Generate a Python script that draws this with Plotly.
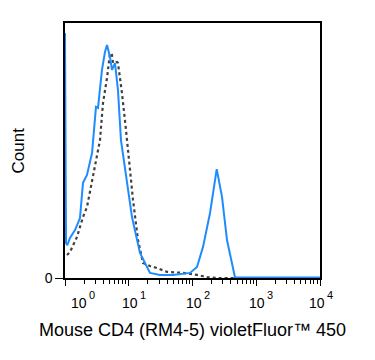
import plotly.graph_objects as go

# log10 fluorescence positions and normalized counts
blue_log = [0.0, 0.016, 0.036, 0.078, 0.157, 0.235, 0.282, 0.345, 0.424, 0.439, 0.486, 0.518,
            0.580, 0.627, 0.659, 0.706, 0.737, 0.784, 0.831, 0.878, 0.973, 1.051, 1.176,
            1.333, 1.490, 1.694, 1.961, 2.071, 2.165, 2.275, 2.380, 2.463, 2.541, 2.635,
            2.667, 4.0]
blue_cnt = [0.961, 0.137, 0.129, 0.157, 0.188, 0.235, 0.373, 0.404, 0.490, 0.541, 0.671, 0.667,
            0.816, 0.886, 0.914, 0.867, 0.816, 0.843, 0.737, 0.541, 0.373, 0.239, 0.098,
            0.020, 0.012, 0.012, 0.020, 0.043, 0.122, 0.255, 0.427, 0.318, 0.149, 0.031,
            0.002, 0.002]

ctrl_log = [0.031, 0.078, 0.188, 0.282, 0.345, 0.439, 0.549, 0.596, 0.659, 0.706, 0.737, 0.753,
            0.816, 0.831, 0.894, 0.957, 1.020, 1.067, 1.145, 1.224, 1.333, 1.443, 1.600,
            1.851, 2.071, 2.227, 2.384, 4.0]
ctrl_cnt = [0.090, 0.102, 0.161, 0.239, 0.278, 0.396, 0.541, 0.686, 0.784, 0.882, 0.875, 0.843,
            0.847, 0.843, 0.725, 0.580, 0.412, 0.306, 0.149, 0.059, 0.047, 0.039, 0.024,
            0.020, 0.012, 0.004, 0.0, 0.0]

decades = [0, 1, 2, 3, 4]
tick_base = "10"
x_title = "Mouse CD4 (RM4-5) violetFluor\u2122 450"
y_title = "Count"

fig = go.Figure()
fig.add_trace(go.Scatter(x=[10 ** v for v in ctrl_log], y=ctrl_cnt, mode="lines",
                         line=dict(color="#404040", width=2.2, dash="dot"), hoverinfo="skip"))
fig.add_trace(go.Scatter(x=[10 ** v for v in blue_log], y=blue_cnt, mode="lines",
                         line=dict(color="#1E8CFF", width=2), hoverinfo="skip"))

minor_vals = [m * 10 ** d for d in range(4) for m in range(2, 10)]

fig.update_xaxes(type="log", range=[0, 4], showgrid=False, zeroline=False,
                 showline=True, linecolor="black", linewidth=1.5, mirror=True,
                 tickmode="array", tickvals=[10 ** d for d in decades], ticktext=["" for d in decades],
                 ticks="outside", ticklen=6, tickcolor="black", tickwidth=1.2,
                 minor=dict(tickmode="array", tickvals=minor_vals, ticks="outside",
                            ticklen=4, tickcolor="black", tickwidth=1))
fig.update_yaxes(range=[0, 1], showgrid=False, zeroline=False,
                 showline=True, linecolor="black", linewidth=1.5, mirror=True,
                 tickmode="array", tickvals=[0], ticktext=["0"],
                 ticks="outside", ticklen=8, tickcolor="black",
                 tickfont=dict(family="Liberation Sans, Arial", size=14, color="black"))

font = dict(family="Liberation Sans, Arial", color="black")
for d in decades:
    shift = 14 if d == 0 else (-3 if d == 4 else 1)
    fig.add_annotation(x=d, y=0, xref="x", yref="paper", text=tick_base,
                       showarrow=False, yanchor="top", xanchor="center", yshift=-15,
                       xshift=shift, font=dict(size=14, **font))
    fig.add_annotation(x=d, y=0, xref="x", yref="paper", text=str(d),
                       showarrow=False, yanchor="top", xanchor="left", yshift=-9,
                       xshift=shift + 8, font=dict(size=11, **font))
fig.add_annotation(x=0.5, y=0, xref="paper", yref="paper", text=x_title, showarrow=False,
                   yanchor="middle", yshift=-52, xshift=0, font=dict(size=18, **font))
fig.add_annotation(x=0, y=0.5, xref="paper", yref="paper", text=y_title, showarrow=False,
                   textangle=-90, xanchor="center", xshift=-47, yshift=0,
                   font=dict(size=17, **font))

# page body has an 8px margin, so the figure is offset accordingly
fig.update_layout(width=367, height=352, margin=dict(l=57, r=55, t=15, b=82),
                  plot_bgcolor="white", paper_bgcolor="white", showlegend=False)
fig.write_html("out.html")
